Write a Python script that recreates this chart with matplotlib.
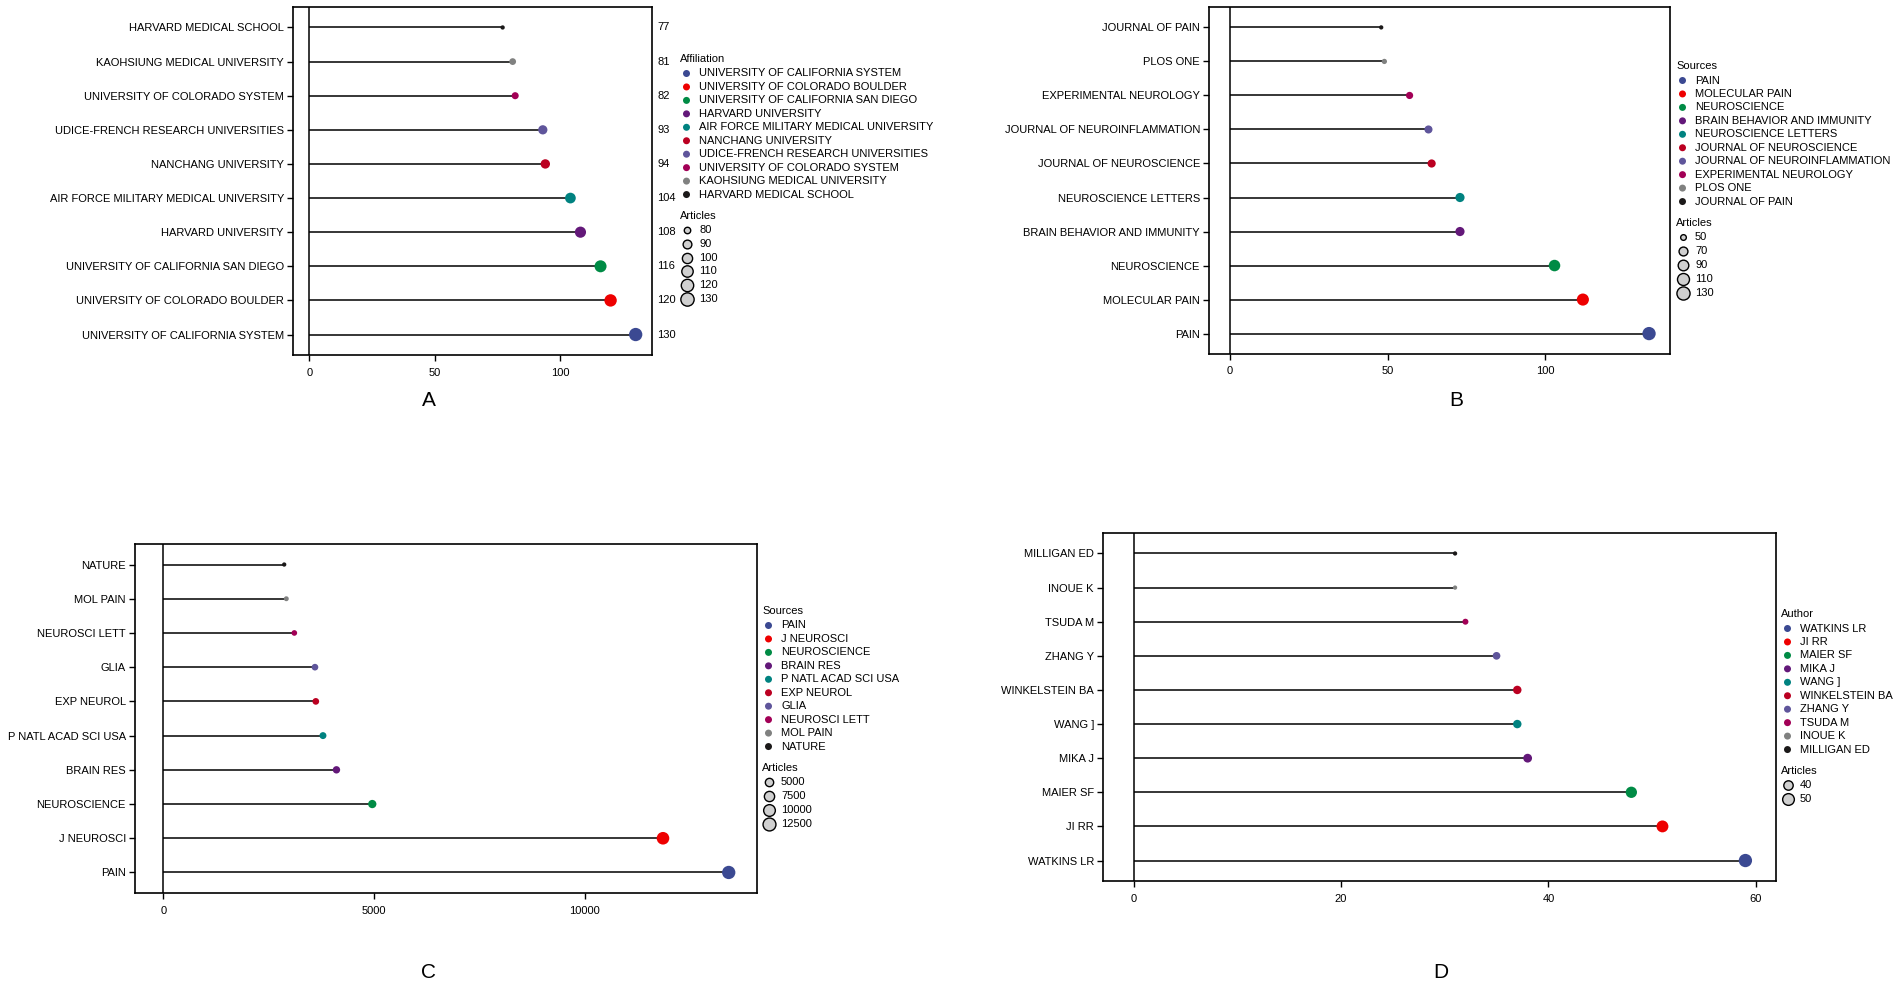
import numpy as np
import matplotlib
matplotlib.use("Agg")
import matplotlib.pyplot as plt

plt.rcParams['font.family'] = ['Liberation Sans', 'DejaVu Sans']
plt.rcParams['font.size'] = 8

# ---- data (rank 1 first) ----
aff_names = ["UNIVERSITY OF CALIFORNIA SYSTEM", "UNIVERSITY OF COLORADO BOULDER",
             "UNIVERSITY OF CALIFORNIA SAN DIEGO", "HARVARD UNIVERSITY",
             "AIR FORCE MILITARY MEDICAL UNIVERSITY", "NANCHANG UNIVERSITY",
             "UDICE-FRENCH RESEARCH UNIVERSITIES", "UNIVERSITY OF COLORADO SYSTEM",
             "KAOHSIUNG MEDICAL UNIVERSITY", "HARVARD MEDICAL SCHOOL"]
aff_articles = [130, 120, 116, 108, 104, 94, 93, 82, 81, 77]

src_names = ["PAIN", "MOLECULAR PAIN", "NEUROSCIENCE", "BRAIN BEHAVIOR AND IMMUNITY",
             "NEUROSCIENCE LETTERS", "JOURNAL OF NEUROSCIENCE", "JOURNAL OF NEUROINFLAMMATION",
             "EXPERIMENTAL NEUROLOGY", "PLOS ONE", "JOURNAL OF PAIN"]
src_articles = [133, 112, 103, 73, 73, 64, 63, 57, 49, 48]

cit_names = ["PAIN", "J NEUROSCI", "NEUROSCIENCE", "BRAIN RES", "P NATL ACAD SCI USA",
             "EXP NEUROL", "GLIA", "NEUROSCI LETT", "MOL PAIN", "NATURE"]
cit_articles = [13420, 11860, 4960, 4110, 3790, 3620, 3600, 3110, 2920, 2870]

aut_names = ["WATKINS LR", "JI RR", "MAIER SF", "MIKA J", "WANG ]", "WINKELSTEIN BA",
             "ZHANG Y", "TSUDA M", "INOUE K", "MILLIGAN ED"]
aut_articles = [59, 51, 48, 38, 37, 37, 35, 32, 31, 31]

aff_ticks = [0, 50, 100]
src_ticks = [0, 50, 100]
cit_ticks = [0, 5000, 10000]
aut_ticks = [0, 20, 40, 60]

aff_size_breaks = [80, 90, 100, 110, 120, 130]
src_size_breaks = [50, 70, 90, 110, 130]
cit_size_breaks = [5000, 7500, 10000, 12500]
aut_size_breaks = [40, 50]

# ggsci AAAS palette
aaas = ["#3B4992", "#EE0000", "#008B45", "#631879", "#008280",
        "#BB0021", "#5F559B", "#A20056", "#808180", "#1B1919"]

W, H = 1902, 985
fig = plt.figure(figsize=(W / 100, H / 100), dpi=100)


def point_area(v, vmin, vmax):
    size = 1 + 5 * np.sqrt((np.asarray(v, float) - vmin) / (vmax - vmin))
    d_px = 2.5 + 1.8 * size
    return (d_px * 0.72) ** 2


def lollipop(box, names, values, ticks):
    left, top, right, bottom = box
    ax = fig.add_axes([left / W, 1 - bottom / H, (right - left) / W, (bottom - top) / H])
    n = len(values)
    rows = np.arange(1, n + 1)
    vmin, vmax = min(values), max(values)
    ax.hlines(rows, 0, values, color='black', lw=1.1, zorder=2)
    ax.axvline(0, color='black', lw=1.1, zorder=2)
    ax.scatter(values, rows, s=point_area(values, vmin, vmax), c=aaas[:n],
               edgecolors='none', zorder=3)
    ax.set_xlim(-0.05 * vmax, 1.05 * vmax)
    ax.set_ylim(0.4, n + 0.6)
    ax.set_yticks(rows)
    ax.set_yticklabels(names)
    ax.set_xticks(ticks)
    ax.tick_params(length=4.5, width=1, color='black', labelsize=8)
    ax.tick_params(axis='x', pad=4.5)
    ax.tick_params(axis='y', pad=2)
    for sp in ax.spines.values():
        sp.set_linewidth(1.2)
    return ax


ax_a = lollipop((293, 7, 652, 355), aff_names, aff_articles, aff_ticks)
ax_b = lollipop((1209, 7, 1670, 354), src_names, src_articles, src_ticks)
ax_c = lollipop((135, 544, 757, 893), cit_names, cit_articles, cit_ticks)
ax_d = lollipop((1103, 533, 1776, 881), aut_names, aut_articles, aut_ticks)

# value labels on the right of panel A
for i, v in enumerate(aff_articles):
    ax_a.annotate(str(v), xy=(1, i + 1), xycoords=('axes fraction', 'data'),
                  xytext=(3.6, 0), textcoords='offset points', va='center', ha='left',
                  fontsize=8, annotation_clip=False)

# overlay in pixel coordinates for legends and panel letters
ov = fig.add_axes([0, 0, 1, 1], zorder=-1)
ov.set_xlim(0, W)
ov.set_ylim(H, 0)
ov.axis('off')


def legend(x0, y0, title, names, values, breaks, size_step):
    ov.text(x0, y0, title, ha='left', va='center', fontsize=8)
    y = y0 + 14.5
    for i, name in enumerate(names):
        ov.scatter(x0 + 6.5, y, s=(7 * 0.72) ** 2, color=aaas[i], edgecolors='none')
        ov.text(x0 + 19, y, name, ha='left', va='center', fontsize=8)
        y += 13.45
    y = y - 13.45 + 21.5
    ov.text(x0, y, "Articles", ha='left', va='center', fontsize=8)
    y += 14
    vmin, vmax = min(values), max(values)
    for b in breaks:
        ov.scatter(x0 + 6.5, y, s=point_area(b, vmin, vmax), color='#D0D0D0',
                   edgecolors='black', linewidths=1)
        ov.text(x0 + 19, y, str(b), ha='left', va='center', fontsize=8)
        y += size_step


legend(680, 59, "Affiliation", aff_names, aff_articles, aff_size_breaks, 13.8)
legend(1676, 66, "Sources", src_names, src_articles, src_size_breaks, 14)
legend(762, 611, "Sources", cit_names, cit_articles, cit_size_breaks, 14)
legend(1781, 614, "Author", aut_names, aut_articles, aut_size_breaks, 14)

for letter, (x, y) in zip("ABCD", [(429, 400), (1456, 400), (429, 972), (1441, 972)]):
    ov.text(x, y, letter, ha='center', va='center', fontsize=15)

fig.savefig("out.png", dpi=100)
